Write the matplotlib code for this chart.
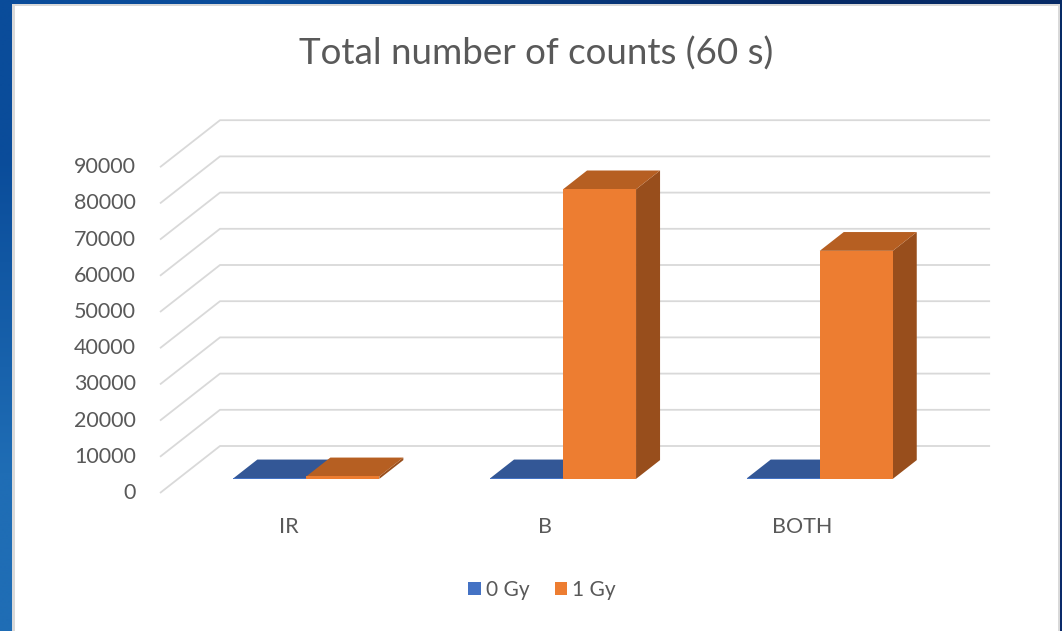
import numpy as np
import matplotlib
matplotlib.use("Agg")
import matplotlib.pyplot as plt
from matplotlib.patches import Polygon, Rectangle, Patch

# counts per channel, 60 s acquisition
categories = ["IR", "B", "BOTH"]
series_names = ["0 Gy", "1 Gy"]
counts_0gy = [150, 150, 150]
counts_1gy = [700, 80000, 63000]
y_ticks = [0, 10000, 20000, 30000, 40000, 50000, 60000, 70000, 80000, 90000]

plt.rcParams["font.family"] = ["Lato", "DejaVu Sans"]
TEXT = "#595959"
GRID = "#d9d9d9"

# face colours: front, top, side
colors = [
    ("#4472C4", "#335796", "#2a4a80"),
    ("#ED7D31", "#B65F22", "#984E1C"),
]

W, H = 1062, 631
fig = plt.figure(figsize=(W / 100, H / 100), dpi=100)

# blue slide background with a white chart panel
bg = fig.add_axes([0, 0, 1, 1])
grad = np.array([[[10, 76, 154], [6, 42, 102]],
                 [[31, 109, 181], [10, 42, 106]]]) / 255.0
bg.imshow(grad, aspect="auto", interpolation="bilinear", extent=[0, W, H, 0])
bg.add_patch(Rectangle((12, 4), 1048, 640, facecolor="#d9d9d9", edgecolor="none"))
bg.add_patch(Rectangle((15, 6), 1043, 640, facecolor="white", edgecolor="none"))
bg.set_xlim(0, W)
bg.set_ylim(H, 0)
bg.axis("off")

# chart axes: x in category units, y in count units (front plane)
x0_px, y0_px = 160, 493       # front-left corner of the floor
cat_px = 256.7                # pixels per category
val_px = 36.2 / 10000         # pixels per count
ax = fig.add_axes([0, 0, 1, 1])
ax.set_xlim(-x0_px / cat_px, (W - x0_px) / cat_px)
ax.set_ylim(-(H - y0_px) / val_px, y0_px / val_px)
ax.axis("off")

# oblique depth vector (full floor depth) in data units
DX = 60 / cat_px
DV = 47 / val_px


def proj(x, v, d):
    return (x + d * DX, v + d * DV)


n = len(categories)

# back wall gridlines with the diagonal run to the front edge
for t in y_ticks:
    xs = [proj(0, t, 0)[0], proj(0, t, 1)[0], proj(n, t, 1)[0]]
    ys = [proj(0, t, 0)[1], proj(0, t, 1)[1], proj(n, t, 1)[1]]
    ax.plot(xs, ys, color=GRID, lw=1.3, solid_capstyle="butt", zorder=1)
    ax.text(-24 / cat_px, t, f"{t}", ha="right", va="center",
            fontsize=15.5, color=TEXT)

# bars: front face at depth f1, back at f2
f1, f2 = 0.30, 0.70
bw = 73 / cat_px
z = 2
for i in range(n):
    for s, vals in enumerate([counts_0gy, counts_1gy]):
        v = vals[i]
        front, top, side = colors[s]
        left = i + 0.5 - bw + s * bw
        right = left + bw
        # side face
        side_pts = [proj(right, 0, f1), proj(right, 0, f2),
                    proj(right, v, f2), proj(right, v, f1)]
        ax.add_patch(Polygon(side_pts, closed=True, facecolor=side,
                             edgecolor="none", zorder=z))
        # top face
        top_pts = [proj(left, v, f1), proj(right, v, f1),
                   proj(right, v, f2), proj(left, v, f2)]
        ax.add_patch(Polygon(top_pts, closed=True, facecolor=top,
                             edgecolor="none", zorder=z))
        # front face
        fx, fb = proj(left, 0, f1)
        ax.bar(fx, v, width=bw, bottom=fb, align="edge", color=front,
               edgecolor="none", zorder=z + 0.5)
        z += 1

# category labels on the front edge of the floor
for i, name in enumerate(categories):
    ax.text(i + 0.5, -34 / val_px, name, ha="center", va="center",
            fontsize=15.5, color=TEXT)

fig.text(536 / W, 1 - 54 / H, "Total number of counts (60 s)", ha="center",
         va="center", fontsize=26.5, color=TEXT)

handles = [Patch(facecolor=colors[k][0], edgecolor="none") for k in range(2)]
fig.legend(handles, series_names, loc="center", ncol=2, frameon=False,
           bbox_to_anchor=(542 / W, 1 - 590 / H), fontsize=15,
           handlelength=0.6, handleheight=0.6, handletextpad=0.25,
           columnspacing=1.2, labelcolor=TEXT)

fig.savefig("out.png", dpi=100)
